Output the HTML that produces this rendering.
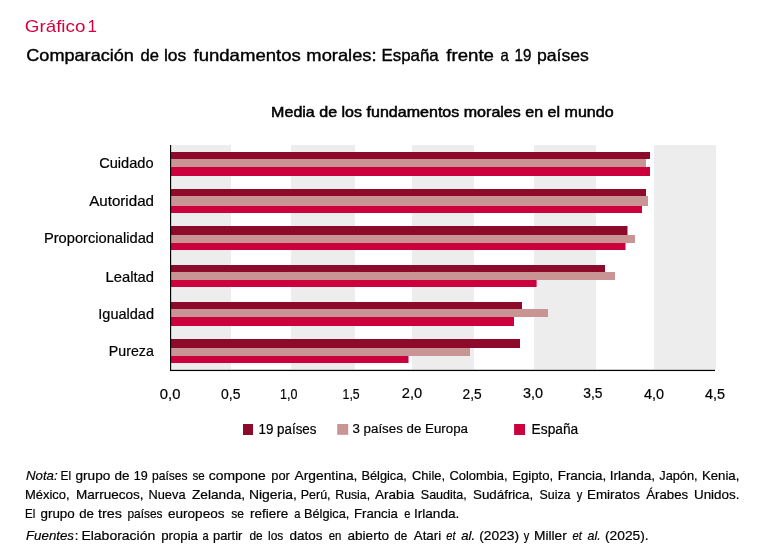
<!DOCTYPE html>
<html lang="es">
<head>
<meta charset="utf-8">
<title>Gráfico 1</title>
<style>
html,body{margin:0;padding:0;background:#fff;}
body{width:760px;height:557px;overflow:hidden;font-family:"Liberation Sans",sans-serif;}
svg{display:block;}
text{font-family:"Liberation Sans",sans-serif;fill:#000;}
.med{stroke:#000;stroke-width:0.38px;}
.semi{stroke:#000;stroke-width:0.5px;}
.reg{stroke:#000;stroke-width:0.2px;}
.it{font-style:italic;}
</style>
</head>
<body>
<svg width="760" height="557" viewBox="0 0 760 557">
<rect width="760" height="557" fill="#fff"/>
<text x="24.8" y="32" font-size="17" textLength="60.6" lengthAdjust="spacingAndGlyphs" style="fill:#d4003f">Gráfico</text>
<text x="87.6" y="32" font-size="17" style="fill:#d4003f">1</text>
<g font-size="16.5" class="med">
<text x="26.25" y="61.4" textLength="107.69" lengthAdjust="spacingAndGlyphs">Comparación</text>
<text x="140.5" y="61.4" textLength="18.43" lengthAdjust="spacingAndGlyphs">de</text>
<text x="163.94" y="61.4" textLength="22.32" lengthAdjust="spacingAndGlyphs">los</text>
<text x="193.5" y="61.4" textLength="107.28" lengthAdjust="spacingAndGlyphs">fundamentos</text>
<text x="306.39" y="61.4" textLength="70.26" lengthAdjust="spacingAndGlyphs">morales:</text>
<text x="381.48" y="61.4" textLength="57.18" lengthAdjust="spacingAndGlyphs">España</text>
<text x="446.25" y="61.4" textLength="47.7" lengthAdjust="spacingAndGlyphs">frente</text>
<text x="500.5" y="61.4" textLength="8.26" lengthAdjust="spacingAndGlyphs">a</text>
<text x="514.58" y="61.4" textLength="16.83" lengthAdjust="spacingAndGlyphs">19</text>
<text x="536.93" y="61.4" textLength="51.94" lengthAdjust="spacingAndGlyphs">países</text>
</g>
<text x="271.1" y="116.7" font-size="14.5" textLength="342.5" lengthAdjust="spacingAndGlyphs" class="semi">Media de los fundamentos morales en el mundo</text>
<g fill="#ededed">
<rect x="171" y="145" width="60" height="224.4"/>
<rect x="291" y="145" width="64" height="224.4"/>
<rect x="412" y="145" width="62" height="224.4"/>
<rect x="534" y="145" width="62" height="224.4"/>
<rect x="654" y="145" width="62" height="224.4"/>
</g>
<g fill="#8d0a2a">
<rect x="171" y="152" width="479" height="7"/>
<rect x="171" y="189" width="475" height="7"/>
<rect x="171" y="226" width="456.5" height="9"/>
<rect x="171" y="265" width="434" height="7"/>
<rect x="171" y="302" width="351" height="7"/>
<rect x="171" y="339" width="349" height="9"/>
</g>
<g fill="#c99594">
<rect x="171" y="159" width="475" height="8"/>
<rect x="171" y="196" width="477" height="10"/>
<rect x="171" y="235" width="464" height="8"/>
<rect x="171" y="272" width="444" height="8"/>
<rect x="171" y="309" width="377" height="8"/>
<rect x="171" y="348" width="299" height="8"/>
</g>
<g fill="#cc003d">
<rect x="171" y="167" width="479" height="9"/>
<rect x="171" y="206" width="471" height="7"/>
<rect x="171" y="243" width="454.5" height="7"/>
<rect x="171" y="280" width="365.6" height="7"/>
<rect x="171" y="317" width="343" height="9"/>
<rect x="171" y="356" width="237.5" height="7"/>
</g>
<rect x="170" y="145" width="1.15" height="226" fill="#000"/>
<rect x="170" y="369.8" width="545" height="1.25" fill="#000"/>
<g font-size="14.5" class="reg">
<text x="99.2" y="168" textLength="54.4" lengthAdjust="spacingAndGlyphs">Cuidado</text>
<text x="89.2" y="205.6" textLength="64.8" lengthAdjust="spacingAndGlyphs">Autoridad</text>
<text x="43.9" y="242.6" textLength="110.1" lengthAdjust="spacingAndGlyphs">Proporcionalidad</text>
<text x="105.6" y="282" textLength="48.4" lengthAdjust="spacingAndGlyphs">Lealtad</text>
<text x="98.3" y="319" textLength="55.7" lengthAdjust="spacingAndGlyphs">Igualdad</text>
<text x="108.8" y="355.9" textLength="45.0" lengthAdjust="spacingAndGlyphs">Pureza</text>
</g>
<g font-size="14" class="reg">
<text x="159.8" y="399" textLength="20.6" lengthAdjust="spacingAndGlyphs">0,0</text>
<text x="221.1" y="399" textLength="19.4" lengthAdjust="spacingAndGlyphs">0,5</text>
<text x="280.1" y="399" textLength="17.4" lengthAdjust="spacingAndGlyphs">1,0</text>
<text x="342.6" y="399.3" textLength="17.1" lengthAdjust="spacingAndGlyphs">1,5</text>
<text x="401.8" y="398.4" textLength="20.4" lengthAdjust="spacingAndGlyphs">2,0</text>
<text x="462.6" y="398.5" textLength="19.1" lengthAdjust="spacingAndGlyphs">2,5</text>
<text x="522.9" y="398.3" textLength="20.0" lengthAdjust="spacingAndGlyphs">3,0</text>
<text x="583.3" y="398.3" textLength="19.2" lengthAdjust="spacingAndGlyphs">3,5</text>
<text x="643.9" y="399.3" textLength="20.0" lengthAdjust="spacingAndGlyphs">4,0</text>
<text x="705.1" y="399.3" textLength="20.0" lengthAdjust="spacingAndGlyphs">4,5</text>
</g>
<rect x="243" y="424" width="10" height="11" fill="#8d0a2a"/>
<text x="258.5" y="433.6" font-size="14" textLength="58" lengthAdjust="spacingAndGlyphs" class="reg">19 países</text>
<rect x="337.2" y="424" width="11" height="10.8" fill="#c99594"/>
<text x="352.5" y="433.2" font-size="13.7" textLength="115.5" lengthAdjust="spacingAndGlyphs" class="reg">3 países de Europa</text>
<rect x="514.1" y="424" width="10.9" height="11" fill="#cc003d"/>
<text x="531.6" y="433.6" font-size="14" textLength="46.6" lengthAdjust="spacingAndGlyphs" class="reg">España</text>
<g font-size="13" class="reg">
<text x="26.0" y="479.9" textLength="31.61" lengthAdjust="spacingAndGlyphs" class="it">Nota:</text>
<text x="60.59" y="479.9" textLength="10.56" lengthAdjust="spacingAndGlyphs">El</text>
<text x="75.5" y="479.9" textLength="34.74" lengthAdjust="spacingAndGlyphs">grupo</text>
<text x="114.5" y="479.9" textLength="14.99" lengthAdjust="spacingAndGlyphs">de</text>
<text x="133.75" y="479.9" textLength="13.97" lengthAdjust="spacingAndGlyphs">19</text>
<text x="152.0" y="479.9" textLength="35.54" lengthAdjust="spacingAndGlyphs">países</text>
<text x="192.5" y="479.9" textLength="12.2" lengthAdjust="spacingAndGlyphs">se</text>
<text x="208.75" y="479.9" textLength="57.0" lengthAdjust="spacingAndGlyphs">compone</text>
<text x="271.25" y="479.9" textLength="18.59" lengthAdjust="spacingAndGlyphs">por</text>
<text x="294.5" y="479.9" textLength="62.9" lengthAdjust="spacingAndGlyphs">Argentina,</text>
<text x="361.52" y="479.9" textLength="45.33" lengthAdjust="spacingAndGlyphs">Bélgica,</text>
<text x="412.0" y="479.9" textLength="33.11" lengthAdjust="spacingAndGlyphs">Chile,</text>
<text x="449.5" y="479.9" textLength="58.11" lengthAdjust="spacingAndGlyphs">Colombia,</text>
<text x="512.24" y="479.9" textLength="40.88" lengthAdjust="spacingAndGlyphs">Egipto,</text>
<text x="557.72" y="479.9" textLength="48.41" lengthAdjust="spacingAndGlyphs">Francia,</text>
<text x="609.7" y="479.9" textLength="45.44" lengthAdjust="spacingAndGlyphs">Irlanda,</text>
<text x="659.25" y="479.9" textLength="38.35" lengthAdjust="spacingAndGlyphs">Japón,</text>
<text x="701.99" y="479.9" textLength="37.38" lengthAdjust="spacingAndGlyphs">Kenia,</text>
</g>
<g font-size="13" class="reg">
<text x="25.0" y="498.8" textLength="44.61" lengthAdjust="spacingAndGlyphs">México,</text>
<text x="75.96" y="498.8" textLength="67.68" lengthAdjust="spacingAndGlyphs">Marruecos,</text>
<text x="148.52" y="498.8" textLength="36.98" lengthAdjust="spacingAndGlyphs">Nueva</text>
<text x="192.0" y="498.8" textLength="53.14" lengthAdjust="spacingAndGlyphs">Zelanda,</text>
<text x="248.93" y="498.8" textLength="47.98" lengthAdjust="spacingAndGlyphs">Nigeria,</text>
<text x="300.79" y="498.8" textLength="29.8" lengthAdjust="spacingAndGlyphs">Perú,</text>
<text x="335.31" y="498.8" textLength="34.77" lengthAdjust="spacingAndGlyphs">Rusia,</text>
<text x="375.0" y="498.8" textLength="39.2" lengthAdjust="spacingAndGlyphs">Arabia</text>
<text x="420.75" y="498.8" textLength="46.09" lengthAdjust="spacingAndGlyphs">Saudita,</text>
<text x="473.0" y="498.8" textLength="60.13" lengthAdjust="spacingAndGlyphs">Sudáfrica,</text>
<text x="539.5" y="498.8" textLength="31.02" lengthAdjust="spacingAndGlyphs">Suiza</text>
<text x="576.75" y="498.8" textLength="5.57" lengthAdjust="spacingAndGlyphs">y</text>
<text x="586.97" y="498.8" textLength="53.02" lengthAdjust="spacingAndGlyphs">Emiratos</text>
<text x="646.25" y="498.8" textLength="41.99" lengthAdjust="spacingAndGlyphs">Árabes</text>
<text x="693.97" y="498.8" textLength="45.41" lengthAdjust="spacingAndGlyphs">Unidos.</text>
</g>
<g font-size="13" class="reg">
<text x="25.11" y="518" textLength="10.29" lengthAdjust="spacingAndGlyphs">El</text>
<text x="40.5" y="518" textLength="34.24" lengthAdjust="spacingAndGlyphs">grupo</text>
<text x="79.25" y="518" textLength="14.73" lengthAdjust="spacingAndGlyphs">de</text>
<text x="98.0" y="518" textLength="23.95" lengthAdjust="spacingAndGlyphs">tres</text>
<text x="127.5" y="518" textLength="35.04" lengthAdjust="spacingAndGlyphs">países</text>
<text x="168.0" y="518" textLength="56.48" lengthAdjust="spacingAndGlyphs">europeos</text>
<text x="231.25" y="518" textLength="12.71" lengthAdjust="spacingAndGlyphs">se</text>
<text x="250.0" y="518" textLength="38.24" lengthAdjust="spacingAndGlyphs">refiere</text>
<text x="294.25" y="518" textLength="6.16" lengthAdjust="spacingAndGlyphs">a</text>
<text x="304.02" y="518" textLength="45.33" lengthAdjust="spacingAndGlyphs">Bélgica,</text>
<text x="353.99" y="518" textLength="43.98" lengthAdjust="spacingAndGlyphs">Francia</text>
<text x="404.25" y="518" textLength="6.16" lengthAdjust="spacingAndGlyphs">e</text>
<text x="413.95" y="518" textLength="45.44" lengthAdjust="spacingAndGlyphs">Irlanda.</text>
</g>
<g font-size="13" class="reg">
<text x="26.0" y="540.4" textLength="47.99" lengthAdjust="spacingAndGlyphs" class="it">Fuentes</text>
<text x="74.69" y="540.4" textLength="3.65" lengthAdjust="spacingAndGlyphs">:</text>
<text x="81.42" y="540.4" textLength="73.82" lengthAdjust="spacingAndGlyphs">Elaboración</text>
<text x="161.25" y="540.4" textLength="36.72" lengthAdjust="spacingAndGlyphs">propia</text>
<text x="202.4" y="540.4" textLength="6.13" lengthAdjust="spacingAndGlyphs">a</text>
<text x="213.0" y="540.4" textLength="29.34" lengthAdjust="spacingAndGlyphs">partir</text>
<text x="249.5" y="540.4" textLength="13.21" lengthAdjust="spacingAndGlyphs">de</text>
<text x="268.0" y="540.4" textLength="15.29" lengthAdjust="spacingAndGlyphs">los</text>
<text x="289.5" y="540.4" textLength="32.98" lengthAdjust="spacingAndGlyphs">datos</text>
<text x="328.75" y="540.4" textLength="12.7" lengthAdjust="spacingAndGlyphs">en</text>
<text x="347.5" y="540.4" textLength="41.49" lengthAdjust="spacingAndGlyphs">abierto</text>
<text x="394.25" y="540.4" textLength="12.96" lengthAdjust="spacingAndGlyphs">de</text>
<text x="413.75" y="540.4" textLength="27.39" lengthAdjust="spacingAndGlyphs">Atari</text>
<text x="446.25" y="540.4" textLength="9.2" lengthAdjust="spacingAndGlyphs" class="it">et</text>
<text x="461.25" y="540.4" textLength="13.87" lengthAdjust="spacingAndGlyphs" class="it">al.</text>
<text x="479.25" y="540.4" textLength="39.85" lengthAdjust="spacingAndGlyphs">(2023)</text>
<text x="523.75" y="540.4" textLength="5.51" lengthAdjust="spacingAndGlyphs">y</text>
<text x="533.94" y="540.4" textLength="32.85" lengthAdjust="spacingAndGlyphs">Miller</text>
<text x="572.5" y="540.4" textLength="9.31" lengthAdjust="spacingAndGlyphs" class="it">et</text>
<text x="587.5" y="540.4" textLength="13.08" lengthAdjust="spacingAndGlyphs" class="it">al.</text>
<text x="605.0" y="540.4" textLength="43.65" lengthAdjust="spacingAndGlyphs">(2025).</text>
</g>
</svg>
</body>
</html>
